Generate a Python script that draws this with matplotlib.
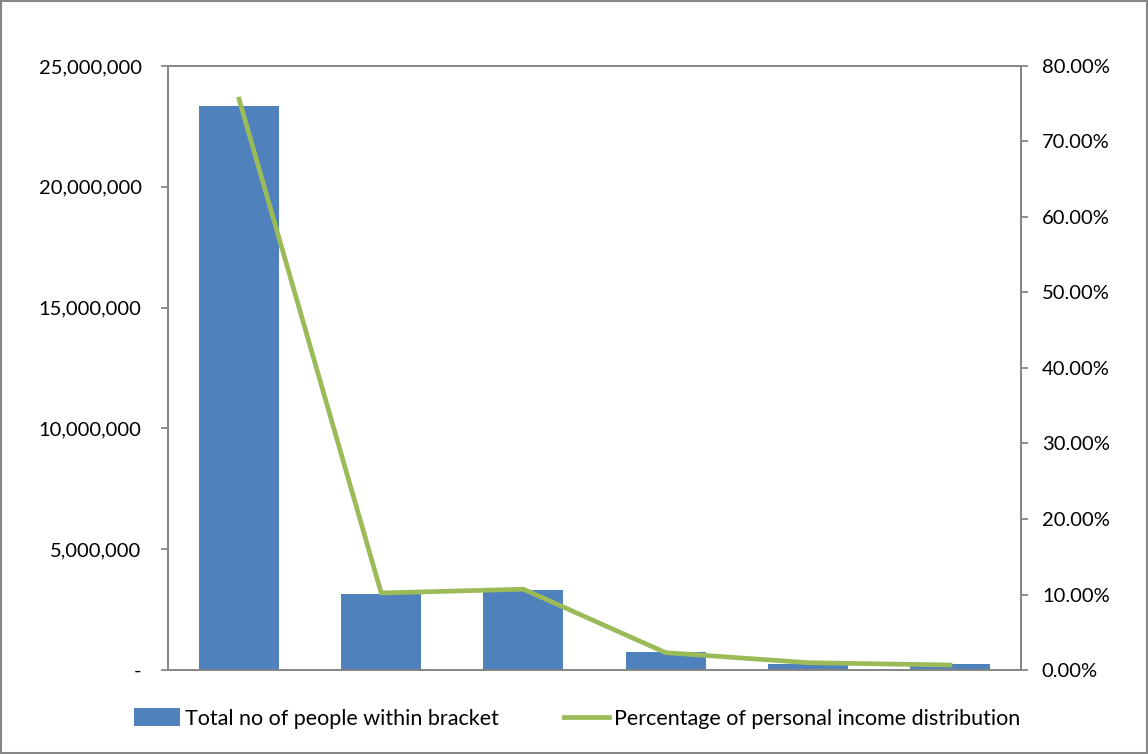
import matplotlib.pyplot as plt
from matplotlib.ticker import FuncFormatter, MultipleLocator
from matplotlib.patches import Rectangle

plt.rcParams['font.family'] = ['Lato', 'DejaVu Sans']

brackets = ['B1', 'B2', 'B3', 'B4', 'B5', 'B6']
people = [23330000, 3150000, 3310000, 760000, 240000, 230000]
income_pct = [75.6, 10.2, 10.7, 2.3, 0.97, 0.66]

bar_color = '#4F81BD'
line_color = '#9BBB59'
axis_gray = '#868686'

fig = plt.figure(figsize=(11.48, 7.54), dpi=100)
ax = fig.add_axes([0.1463, 0.1114, 0.7431, 0.8011])
ax2 = ax.twinx()

x = list(range(len(brackets)))
bars = ax.bar(x, people, width=0.5625, color=bar_color, label='Total no of people within bracket', zorder=2)
line, = ax2.plot(x, income_pct, color=line_color, linewidth=3.4, label='Percentage of personal income distribution',
                 solid_joinstyle='round', zorder=3)

ax.set_xlim(-0.5, 5.5)
ax.set_ylim(0, 25000000)
ax2.set_ylim(0, 80)
ax.yaxis.set_major_locator(MultipleLocator(5000000))
ax2.yaxis.set_major_locator(MultipleLocator(10))
ax.yaxis.set_major_formatter(FuncFormatter(lambda v, p: '-' if v == 0 else f'{v:,.0f}'))
ax2.yaxis.set_major_formatter(FuncFormatter(lambda v, p: f'{v:.2f}%'))
ax.set_xticks([])

for a in (ax, ax2):
    for s in a.spines.values():
        s.set_color(axis_gray)
        s.set_linewidth(1.3)
    a.tick_params(axis='y', colors=axis_gray, labelcolor='black', labelsize=14.5, length=5, width=1.3)
ax.tick_params(axis='y', pad=14)
ax2.tick_params(axis='y', pad=10)

ax.set_zorder(ax2.get_zorder() - 1)
ax2.patch.set_visible(False)

fig.legend([bars, line], [bars.get_label(), line.get_label()], loc='center', bbox_to_anchor=(0.503, 0.047),
           ncol=2, frameon=False, fontsize=15.5, columnspacing=3.0, handlelength=2.1, handleheight=0.9,
           handletextpad=0.25)

fig.patches.append(Rectangle((0.001, 0.001), 0.998, 0.998, transform=fig.transFigure, fill=False,
                             edgecolor=axis_gray, linewidth=1.5))

fig.savefig('out.png', dpi=100)
